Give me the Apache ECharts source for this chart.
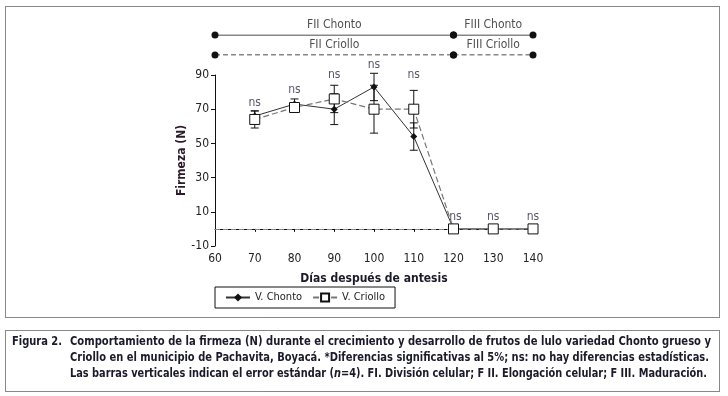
<!DOCTYPE html>
<html>
<head>
<meta charset="utf-8">
<script src="https://cdn.jsdelivr.net/npm/echarts@6/dist/echarts.min.js"></script>
<style>
html,body{margin:0;padding:0;background:#fff;}
#chart{width:728px;height:396px;}
</style>
</head>
<body>
<div id="chart"></div>
<script>
var FONT = '"DejaVu Sans Condensed","Liberation Sans",sans-serif';

// dias despues de antesis
var dias = [70, 80, 90, 100, 110, 120, 130, 140];
// firmeza (N)
var chonto = [66, 73, 70, 83, 54, 0, 0, 0];
var criollo = [64, 71, 76, 70, 70, 0, 0, 0];
// error estandar
var chontoErr = [3, 3, 9, 8, 8, 0, 0, 0];
var criolloErr = [5, 2, 8, 14, 11, 0, 0, 0];
// posicion de las etiquetas "ns"
var nsX = [70, 80, 90, 100, 110, 120.5, 130, 140];
var nsY = [73.5, 81.5, 90, 96, 90, 7, 7, 7];

// fases
var fasesChonto = [{name: 'FII Chonto', ini: 60, fin: 120}, {name: 'FIII Chonto', ini: 120, fin: 140}];
var fasesCriollo = [{name: 'FII Criollo', ini: 60, fin: 120}, {name: 'FIII Criollo', ini: 120, fin: 140}];

var caption = [
    'Comportamiento de la firmeza (N) durante el crecimiento y desarrollo de frutos de lulo variedad Chonto grueso y',
    'Criollo en el municipio de Pachavita, Boyacá. *Diferencias significativas al 5%; ns: no hay diferencias estadísticas.',
    'Las barras verticales indican el error estándar (|n|=4). FI. División celular; F II. Elongación celular; F III. Maduración.'
];

var chart = echarts.init(document.getElementById('chart'));

function errData(vals, errs) {
    return dias.map(function (d, i) {
        return [d, vals[i] - errs[i], vals[i] + errs[i]];
    });
}
function renderErr(params, api) {
    var x = api.value(0);
    var lo = api.coord([x, api.value(1)]);
    var hi = api.coord([x, api.value(2)]);
    if (hi[1] == lo[1]) return null;
    var st = {stroke: '#111', lineWidth: 1};
    return {
        type: 'group',
        children: [
            {type: 'line', shape: {x1: lo[0], y1: lo[1], x2: hi[0], y2: hi[1]}, style: st},
            {type: 'line', shape: {x1: lo[0] - 4, y1: lo[1], x2: lo[0] + 4, y2: lo[1]}, style: st},
            {type: 'line', shape: {x1: hi[0] - 4, y1: hi[1], x2: hi[0] + 4, y2: hi[1]}, style: st}
        ]
    };
}

function faseSeries(fases, yv, dashed) {
    var out = [];
    fases.forEach(function (f) {
        out.push({
            type: 'line', xAxisIndex: 1, yAxisIndex: 1,
            data: [[f.ini, yv], [f.fin, yv]],
            symbol: 'circle', symbolSize: 7,
            itemStyle: {color: '#111'},
            lineStyle: {color: '#111', width: 1, type: dashed ? [5, 3] : 'solid'},
            silent: true
        });
        out.push({
            type: 'scatter', xAxisIndex: 1, yAxisIndex: 1,
            data: [[(f.ini + f.fin) / 2, yv]],
            symbolSize: 0,
            label: {show: true, formatter: f.name, position: 'top', distance: 4,
                fontFamily: FONT, fontSize: 12, color: '#222'},
            silent: true
        });
    });
    return out;
}

// caption: cada linea escalada en x para ocupar su ancho
var ctx = document.createElement('canvas').getContext('2d');
var capFont = 'bold 12px ' + FONT;
ctx.font = capFont;
var capGraphics = [];
var capLeft = 70, capRights = [711, 709, 707], capTops = [336, 352, 368];
caption.forEach(function (line, li) {
    var parts = line.split('|');
    var w = ctx.measureText(parts.join('')).width;
    var rich = parts.map(function (p, k) { return k % 2 ? '{i|' + p + '}' : '{b|' + p + '}'; }).join('');
    capGraphics.push({type: 'text', x: capLeft, y: capTops[li], scaleX: (capRights[li] - capLeft) / w,
        style: {text: rich, font: capFont, fill: '#1a1a2a',
            rich: {
                b: {fontFamily: FONT, fontSize: 12, fontWeight: 'bold', fill: '#1a1a2a'},
                i: {fontFamily: FONT, fontSize: 12, fontWeight: 'bold', fontStyle: 'italic', fill: '#1a1a2a'}
            }}});
});
var figW = ctx.measureText('Figura 2.').width;
capGraphics.push({type: 'text', x: 12, y: capTops[0], scaleX: 50 / figW,
    style: {text: 'Figura 2.', font: capFont, fill: '#1a1a2a'}});

var option = {
    animation: false,
    backgroundColor: '#fff',
    grid: [
        {left: 215, right: 195, top: 75, bottom: 150},
        {left: 215, right: 195, top: 35, height: 20}
    ],
    xAxis: [
        {
            type: 'value', min: 60, max: 140, interval: 10, gridIndex: 0,
            name: 'Días después de antesis', nameLocation: 'middle', nameGap: 27,
            nameTextStyle: {fontFamily: FONT, fontSize: 12, fontWeight: 'bold', color: '#1a1a2a'},
            axisLine: {lineStyle: {color: '#111', width: 1}},
            axisTick: {show: true, length: 3, lineStyle: {color: '#111'}},
            axisLabel: {fontFamily: FONT, fontSize: 12, color: '#222', margin: 7},
            splitLine: {show: false}
        },
        {type: 'value', min: 60, max: 140, gridIndex: 1, show: false}
    ],
    yAxis: [
        {
            type: 'value', min: -10, max: 90, interval: 20, gridIndex: 0,
            name: 'Firmeza (N)', nameLocation: 'middle', nameGap: 23,
            nameTextStyle: {fontFamily: FONT, fontSize: 12, fontWeight: 'bold', color: '#2a1a2a'},
            axisLine: {show: true, lineStyle: {color: '#111', width: 1}},
            axisTick: {show: true, length: 4, lineStyle: {color: '#111'}},
            axisLabel: {fontFamily: FONT, fontSize: 12, color: '#222', margin: 6},
            splitLine: {show: false}
        },
        {type: 'value', min: 0, max: 1, gridIndex: 1, show: false}
    ],
    legend: {
        left: 215, top: 287,
        orient: 'horizontal',
        data: ['V. Chonto', 'V. Criollo'],
        borderColor: '#111', borderWidth: 1, borderRadius: 0,
        padding: [5, 10, 5, 10],
        itemWidth: 24, itemHeight: 10, itemGap: 10,
        textStyle: {fontFamily: FONT, fontSize: 11, color: '#222'}
    },
    graphic: [
        {type: 'rect', shape: {x: 5.5, y: 6.5, width: 714, height: 311},
            style: {fill: 'none', stroke: '#111', lineWidth: 1, lineDash: [1, 1]}},
        {type: 'rect', shape: {x: 5.5, y: 330.5, width: 714, height: 61},
            style: {fill: 'none', stroke: '#111', lineWidth: 1, lineDash: [1, 1]}}
    ].concat(capGraphics),
    series: [
        {
            name: 'err chonto', type: 'custom', renderItem: renderErr,
            data: errData(chonto, chontoErr), z: 3, silent: true
        },
        {
            name: 'err criollo', type: 'custom', renderItem: renderErr,
            data: errData(criollo, criolloErr), z: 3, silent: true
        },
        {
            name: 'V. Chonto', type: 'line',
            data: dias.map(function (d, i) { return [d, chonto[i]]; }),
            symbol: 'diamond', symbolSize: 7,
            itemStyle: {color: '#111'},
            lineStyle: {color: '#333', width: 1},
            z: 4,
            markLine: {
                silent: true, symbol: 'none', label: {show: false},
                lineStyle: {color: '#888', type: [5, 3], width: 1},
                data: [{yAxis: 0}]
            }
        },
        {
            name: 'V. Criollo', type: 'line',
            data: dias.map(function (d, i) { return [d, criollo[i]]; }),
            symbol: 'rect', symbolSize: 10,
            itemStyle: {color: '#fff', borderColor: '#111', borderWidth: 1},
            lineStyle: {color: '#777', width: 1.2, type: [6, 3]},
            z: 5
        },
        {
            name: 'ns', type: 'scatter',
            data: nsX.map(function (d, i) { return [d, nsY[i]]; }),
            symbolSize: 0, clip: false, z: 6,
            label: {show: true, position: 'inside', formatter: 'ns',
                fontFamily: FONT, fontSize: 12, color: '#2a2a44'},
            silent: true
        }
    ].concat(faseSeries(fasesChonto, 1, false)).concat(faseSeries(fasesCriollo, 0, true))
};
chart.setOption(option);
</script>
</body>
</html>
